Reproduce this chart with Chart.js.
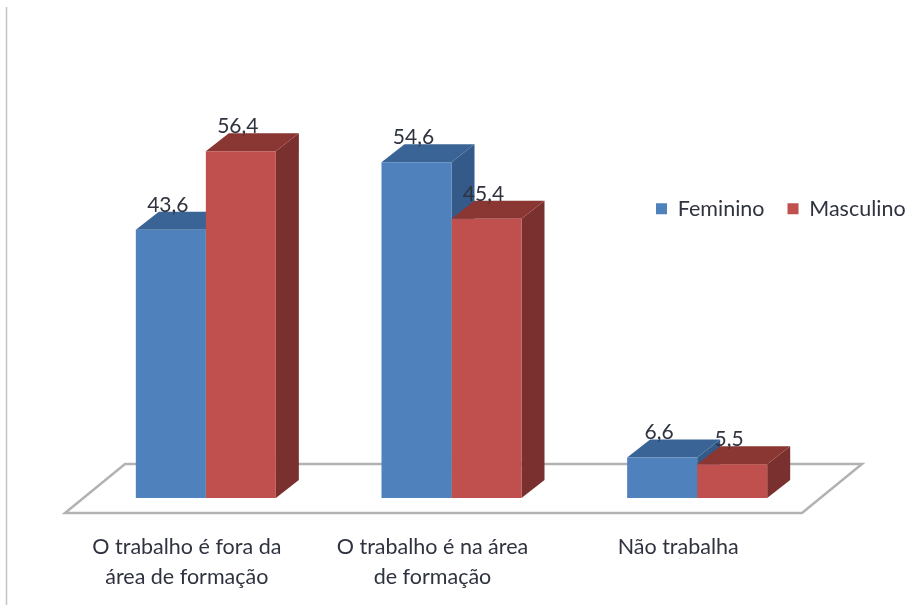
<!DOCTYPE html>
<html>
<head>
<meta charset="utf-8">
<style>
html, body { margin: 0; padding: 0; background: #fff; }
#wrap { width: 907px; height: 605px; position: relative; }
canvas { filter: blur(0.5px); }
</style>
</head>
<body>
<div id="wrap"><canvas id="chart"></canvas></div>
<script src="https://cdn.jsdelivr.net/npm/chart.js@4"></script>
<script>
const categories = [
    ["O trabalho é fora da", "área de formação"],
    ["O trabalho é na área", "de formação"],
    "Não trabalha"
];
const feminino = [43.6, 54.6, 6.6];
const masculino = [56.4, 45.4, 5.5];

const textColor = "#2f3340";
const fontName = "Lato, 'Open Sans', sans-serif";

function box3d(ctx, bar, topColor, sideColor) {
    const dx = 23, dy = 18;
    const left = bar.x - bar.width / 2;
    const right = bar.x + bar.width / 2;
    ctx.fillStyle = sideColor;
    ctx.beginPath();
    ctx.moveTo(right, bar.y);
    ctx.lineTo(right + dx, bar.y - dy);
    ctx.lineTo(right + dx, bar.base - dy);
    ctx.lineTo(right, bar.base);
    ctx.closePath();
    ctx.fill();
    ctx.fillStyle = topColor;
    ctx.beginPath();
    ctx.moveTo(left, bar.y);
    ctx.lineTo(left + dx, bar.y - dy);
    ctx.lineTo(right + dx, bar.y - dy);
    ctx.lineTo(right, bar.y);
    ctx.closePath();
    ctx.fill();
}

// piso, faces 3D e linha da esquerda
const fake3d = {
    id: "fake3d",
    beforeDraw(chart) {
        // legenda dentro do grafico, a direita
        const lg = chart.legend;
        const w = lg.right - lg.left, h = lg.bottom - lg.top;
        lg.left = 633;
        lg.right = 633 + w;
        lg.top = 175;
        lg.bottom = 175 + h;
    },
    beforeDatasetsDraw(chart) {
        const ctx = chart.ctx;
        const area = chart.chartArea;
        ctx.save();
        ctx.strokeStyle = "#c4c4c4";
        ctx.lineWidth = 1.5;
        ctx.beginPath();
        ctx.moveTo(6.5, 7);
        ctx.lineTo(6.5, 605);
        ctx.stroke();

        ctx.strokeStyle = "#b2b2b2";
        ctx.lineWidth = 2.5;
        ctx.lineJoin = "miter";
        ctx.beginPath();
        ctx.moveTo(area.left - 18, area.bottom + 15);
        ctx.lineTo(area.right - 18, area.bottom + 15);
        ctx.lineTo(area.right + 42, area.bottom - 34);
        ctx.lineTo(area.left + 42, area.bottom - 34);
        ctx.closePath();
        ctx.stroke();

        chart.getDatasetMeta(0).data.forEach(bar => box3d(ctx, bar, "#3a6495", "#335a88"));
        chart.getDatasetMeta(1).data.forEach(bar => box3d(ctx, bar, "#8a3633", "#7a302e"));
        ctx.restore();
    },
    afterDatasetsDraw(chart) {
        const ctx = chart.ctx;
        ctx.save();
        ctx.font = "21px " + fontName;
        ctx.fillStyle = textColor;
        ctx.textAlign = "center";
        ctx.textBaseline = "middle";
        chart.data.datasets.forEach((ds, i) => {
            chart.getDatasetMeta(i).data.forEach((bar, j) => {
                ctx.fillText(String(ds.data[j]).replace(".", ","), bar.x - 3, bar.y - 25);
            });
        });
        ctx.restore();
    }
};

new Chart(document.getElementById("chart"), {
    type: "bar",
    data: {
        labels: categories,
        datasets: [
            { label: "Feminino", data: feminino, backgroundColor: "#4f81bd" },
            { label: "Masculino", data: masculino, backgroundColor: "#c0504d" }
        ]
    },
    options: {
        responsive: true,
        maintainAspectRatio: false,
        animation: false,
        layout: { padding: { left: 83, right: 87, top: 74.5, bottom: 0 } },
        datasets: { bar: { barPercentage: 1, categoryPercentage: 0.57 } },
        plugins: {
            legend: {
                position: "top",
                align: "start",
                labels: {
                    boxWidth: 11,
                    boxHeight: 11,
                    padding: 23,
                    color: textColor,
                    font: { family: fontName, size: 21.5 }
                }
            },
            tooltip: { enabled: false }
        },
        scales: {
            x: {
                grid: { display: false, drawTicks: false },
                border: { display: false },
                afterFit(scale) { scale.height = 107; },
                ticks: {
                    autoSkip: false,
                    maxRotation: 0,
                    padding: 34,
                    labelOffset: -19,
                    color: textColor,
                    font: { family: fontName, size: 21.5, lineHeight: 1.4 }
                }
            },
            y: { display: false, min: 0, max: 60 }
        }
    },
    plugins: [fake3d]
});
</script>
</body>
</html>
